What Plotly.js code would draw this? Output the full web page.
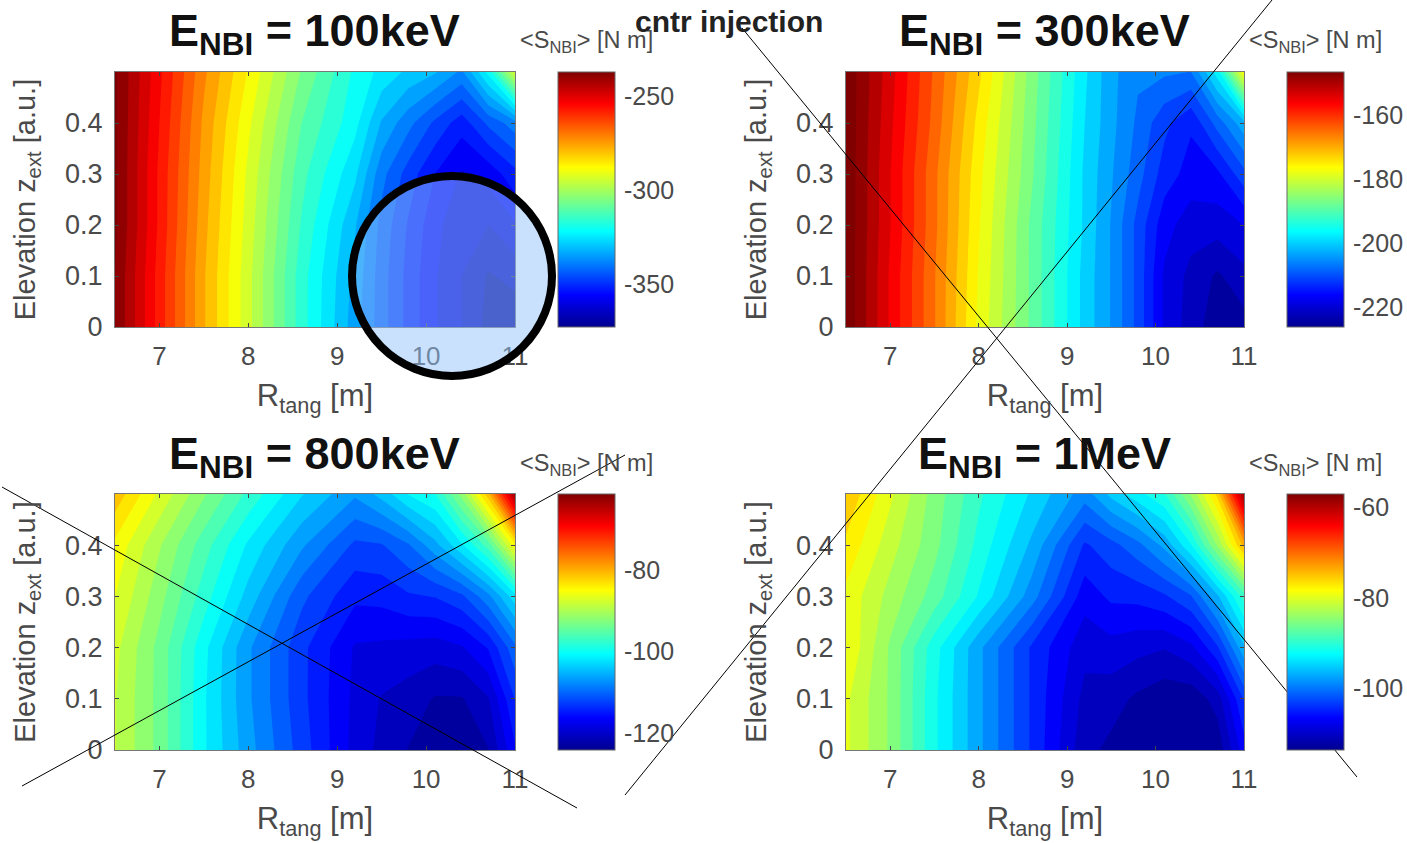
<!DOCTYPE html>
<html>
<head>
<meta charset="utf-8">
<script src="https://cdn.plot.ly/plotly-3.0.1.min.js"></script>
<style>html,body{margin:0;padding:0;background:#fff;overflow:hidden}</style>
</head>
<body>
<div id="chart" style="width:1407px;height:843px"></div>
<script>
const R_TANG = [6.5, 7, 7.5, 8, 8.6, 9.2, 9.5, 9.8, 10.1, 10.4, 10.7, 11];
const Z_EXT = [0, 0.1, 0.2, 0.3, 0.4, 0.5];

const S_100keV = [
  [-238,-258,-278,-295,-317,-335,-344,-352,-359,-364,-370,-372],
  [-238,-258,-278,-295,-317,-334,-344,-352,-359,-364,-369,-367],
  [-237,-257,-277,-294,-315,-332,-343,-351,-358,-363,-364,-360],
  [-237,-257,-276,-293,-313,-327,-340,-348,-355,-360,-358,-352],
  [-237,-256,-275,-291,-310,-322,-333,-340,-347,-353,-345,-339],
  [-237,-255,-273,-288,-306,-320,-325,-329,-332,-338,-322,-294]
];
const S_300keV = [
  [-147,-157.5,-167.5,-179,-189.5,-200.5,-205,-211,-218.5,-222,-225,-224.5],
  [-147,-157.5,-167.5,-178.5,-189.5,-200.5,-205,-211,-218.5,-221.5,-223.8,-221.5],
  [-147,-157,-167,-178,-189.5,-200,-205,-211,-217,-219.5,-219.5,-218],
  [-147,-157,-167,-177.5,-188.5,-200,-204.5,-209,-214,-216.5,-216,-211],
  [-147,-156.5,-166,-176.5,-188,-199.5,-204,-208,-212,-215,-209,-203],
  [-147,-156,-165.5,-175,-187.5,-199,-204,-207,-207,-207.5,-198,-178]
];
const S_800keV = [
  [-88.5,-93.5,-100.8,-106.5,-112.5,-118.5,-120.5,-122,-123.2,-123.2,-122,-116],
  [-88.5,-93.5,-100.8,-107,-113,-118.3,-120,-120.8,-122.1,-122.1,-120,-113.5],
  [-88,-93.5,-100.5,-107,-113,-118,-118.2,-118.5,-118.8,-118,-115.5,-110],
  [-86.5,-92,-98,-104,-111,-115.2,-115,-113.9,-113.5,-112,-108,-102],
  [-85,-90.5,-96,-101.5,-107,-112,-111.7,-109.7,-106,-101.5,-96,-85],
  [-81,-87,-92.5,-97.5,-103,-107,-104.5,-101,-99,-92,-81,-63]
];
const S_1MeV = [
  [-81,-85.5,-92.4,-98,-104.5,-111.2,-112.3,-113.1,-113.6,-113.6,-113.1,-107],
  [-81,-85.5,-92.4,-98,-104.5,-110.5,-111,-112.2,-113.1,-113.1,-111,-104],
  [-79.5,-85.5,-92,-98,-104.5,-109.3,-108.7,-109.3,-109.8,-108.5,-104.5,-97],
  [-80,-84,-88,-93,-99.5,-107.2,-105.7,-105.5,-104.5,-102.5,-97,-90],
  [-78,-82.5,-86.5,-91.5,-97,-104.5,-103,-101,-98,-93,-85,-75],
  [-76,-81,-86,-90.5,-95,-99.5,-96,-93.5,-91,-85,-77,-60]
];

const PANEL_DATA = [S_100keV, S_300keV, S_800keV, S_1MeV];
const PANEL_TITLES = ['100keV', '300keV', '800keV', '1MeV'];
const COLOR_MIN = [-373, -226, -124, -113.7];
const COLOR_MAX = [-237, -146.6, -61.5, -57];
const LEVEL_STEP = [4.5, 2.65, 2.08, 1.9];
const CBAR_TICKS = [[-250,-300,-350], [-160,-180,-200,-220], [-80,-100,-120], [-60,-80,-100]];
const X_TICKS = [7, 8, 9, 10, 11];
const Y_TICKS = [0, 0.1, 0.2, 0.3, 0.4];

const W = 1407, H = 843;
const px = v => v / W, py = v => 1 - v / H;
const LEFT = [115, 846, 115, 846], RIGHT = [515, 1244, 515, 1244];
const TOP = [72, 72, 494, 494], BOTTOM = [327, 327, 750, 750];
const CB_LEFT = [558, 1287, 558, 1287];

const JET = [[0,'#00008f'],[0.125,'#0000ff'],[0.375,'#00ffff'],[0.625,'#ffff00'],[0.875,'#ff0000'],[1,'#800000']];
const GREY = '#4a4a4a';
const FONT = 'Liberation Sans, Arial, sans-serif';

const traces = [], annotations = [];
const layout = {
  width: W, height: H, margin: {l:0,r:0,t:0,b:0},
  paper_bgcolor: '#fff', plot_bgcolor: '#fff',
  font: {family: FONT, color: GREY}, showlegend: false
};

PANEL_DATA.forEach((z, i) => {
  const n = i === 0 ? '' : String(i + 1);
  const ax = 'x' + n, ay = 'y' + n;
  traces.push({
    type: 'heatmap', x: R_TANG, y: Z_EXT, z: z, xaxis: ax, yaxis: ay,
    colorscale: JET, zauto: false, zmin: COLOR_MIN[i], zmax: COLOR_MAX[i], hoverinfo: 'skip',
    showscale: true,
    colorbar: {
      x: px(CB_LEFT[i]), xanchor: 'left', xref: 'paper', xpad: 0, ypad: 0,
      y: py((TOP[i] + BOTTOM[i]) / 2), yanchor: 'middle', yref: 'paper',
      len: (BOTTOM[i] - TOP[i]) / H, lenmode: 'fraction',
      thickness: 57, thicknessmode: 'pixels',
      outlinecolor: '#666', outlinewidth: 1, borderwidth: 0,
      tickmode: 'array', tickvals: CBAR_TICKS[i], ticktext: CBAR_TICKS[i].map(String),
      ticks: 'outside', ticklen: 4, tickcolor: 'rgba(0,0,0,0)',
      tickfont: {size: 25, family: FONT, color: GREY}
    }
  });
  traces.push({
    type: 'contour', x: R_TANG, y: Z_EXT, z: z, xaxis: ax, yaxis: ay,
    colorscale: JET, zauto: false, zmin: COLOR_MIN[i], zmax: COLOR_MAX[i], showscale: false,
    autocontour: false,
    contours: {coloring: 'fill', start: COLOR_MIN[i], end: COLOR_MAX[i], size: LEVEL_STEP[i], showlines: false},
    line: {width: 0, smoothing: 0}, hoverinfo: 'skip'
  });
  layout['xaxis' + n] = {
    domain: [px(LEFT[i]), px(RIGHT[i])], range: [6.5, 11], anchor: ay,
    tickmode: 'array', tickvals: X_TICKS, ticktext: X_TICKS.map(String),
    ticks: 'inside', ticklen: 4, tickcolor: '#444', showgrid: false, zeroline: false,
    showline: true, linecolor: '#777', linewidth: 1, mirror: 'allticks',
    ticklabelstandoff: 6,
    tickfont: {size: 26, family: FONT, color: GREY},
    title: {text: 'R<sub>tang</sub> [m]', font: {size: 31, family: FONT, color: GREY}, standoff: 14}
  };
  layout['yaxis' + n] = {
    domain: [py(BOTTOM[i]), py(TOP[i])], range: [0, 0.5], anchor: ax,
    tickmode: 'array', tickvals: Y_TICKS, ticktext: ['0','0.1','0.2','0.3','0.4'],
    ticks: 'inside', ticklen: 4, tickcolor: '#444', showgrid: false, zeroline: false,
    showline: true, linecolor: '#777', linewidth: 1, mirror: 'allticks',
    ticklabelstandoff: 6,
    tickfont: {size: 27, family: FONT, color: GREY},
    title: {text: 'Elevation z<sub>ext</sub> [a.u.]', font: {size: 29, family: FONT, color: GREY}, standoff: 20}
  };
  annotations.push({
    xref: 'paper', yref: 'paper', x: px((LEFT[i] + RIGHT[i]) / 2 - 1), y: py(TOP[i] - 38),
    xanchor: 'center', yanchor: 'middle', showarrow: false,
    text: '<b>E<sub>NBI</sub> = ' + PANEL_TITLES[i] + '</b>',
    font: {size: 45, family: FONT, color: '#111'}
  });
  annotations.push({
    xref: 'paper', yref: 'paper', x: px(CB_LEFT[i] + 28), y: py(TOP[i] - 30),
    xanchor: 'center', yanchor: 'middle', showarrow: false,
    text: '&lt;S<sub>NBI</sub>&gt; [N m]',
    font: {size: 23.5, family: FONT, color: GREY}
  });
});

annotations.push({
  xref: 'paper', yref: 'paper', x: px(729), y: py(21), xanchor: 'center', yanchor: 'middle',
  showarrow: false, text: '<b>cntr injection</b>', font: {size: 30, family: FONT, color: '#222'}
});
layout.annotations = annotations;

const CROSS_LINES = [
  [742, 28, 1357, 777], [1272, 0, 625, 795],
  [2, 487, 577, 808], [22, 786, 625, 455]
];
layout.shapes = CROSS_LINES.map(l => ({
  type: 'line', xref: 'paper', yref: 'paper', layer: 'above',
  x0: px(l[0]), y0: py(l[1]), x1: px(l[2]), y1: py(l[3]),
  line: {color: '#000', width: 1}
}));
layout.shapes.push({
  type: 'circle', xref: 'paper', yref: 'paper', layer: 'above',
  x0: px(352), x1: px(552), y0: py(176), y1: py(376),
  fillcolor: 'rgba(147,195,250,0.5)', line: {color: '#000', width: 8}
});

Plotly.newPlot('chart', traces, layout, {displayModeBar: false, staticPlot: true});
</script>
</body>
</html>
